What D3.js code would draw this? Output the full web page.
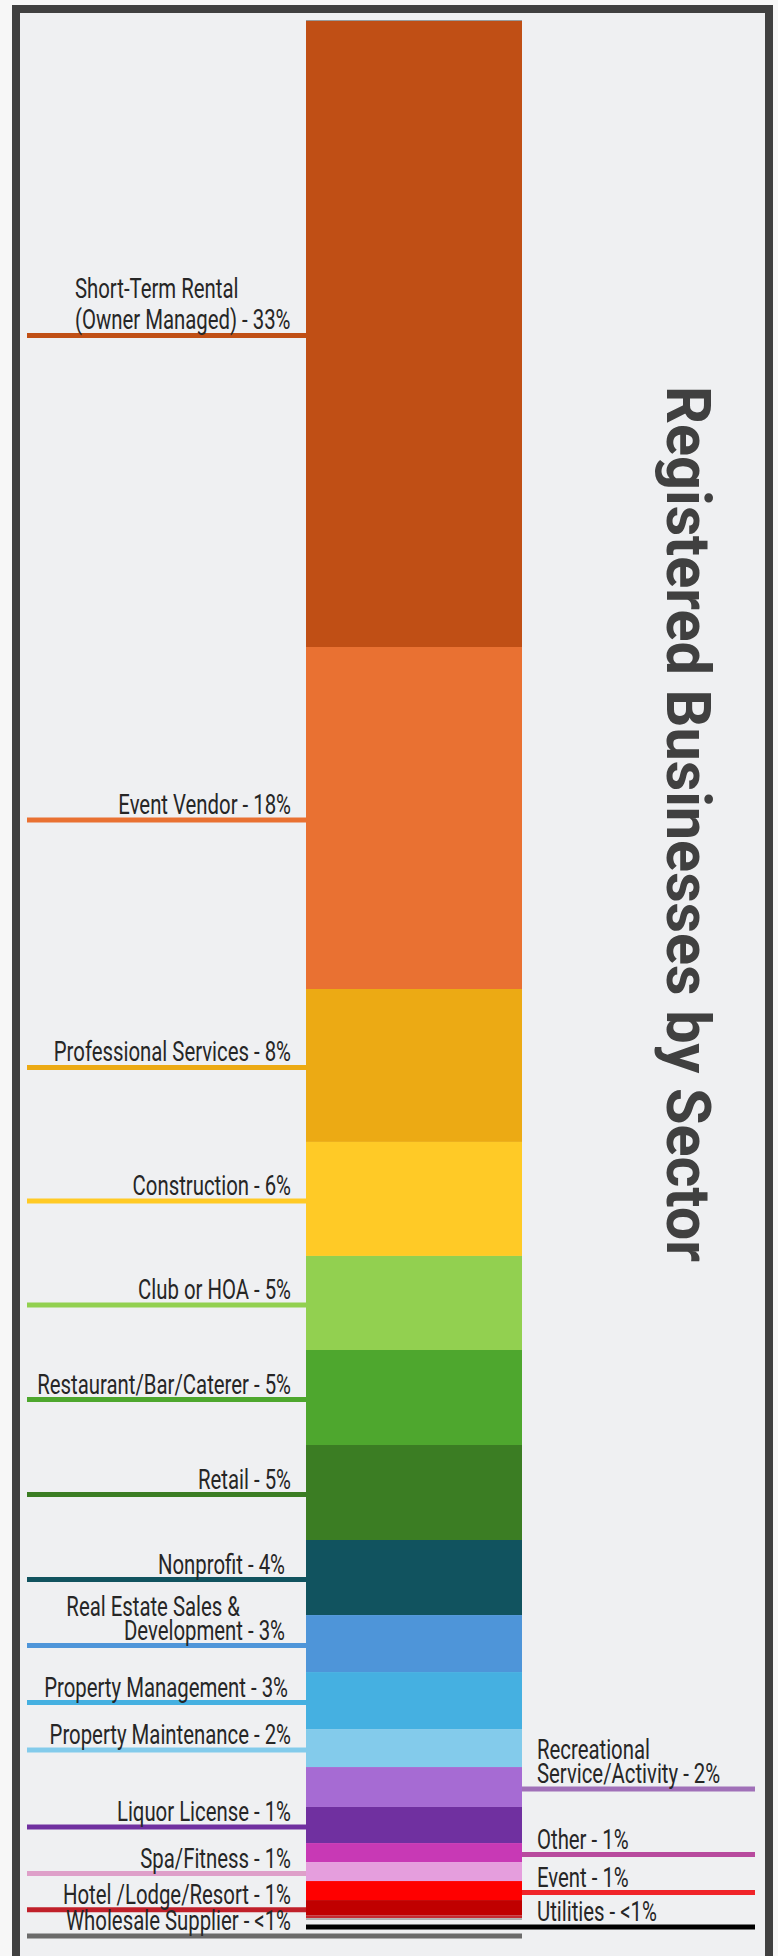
<!DOCTYPE html>
<html><head><meta charset="utf-8">
<script src="https://cdn.jsdelivr.net/npm/d3@7"></script>
<style>html,body{margin:0;padding:0;background:#f7f7f7;} svg{display:block}</style>
</head><body><div id="chart"></div>
<script>
// ---- data ----
const categories = ["Short-Term Rental (Owner Managed)","Event Vendor","Professional Services","Construction","Club or HOA","Restaurant/Bar/Caterer","Retail","Nonprofit","Real Estate Sales & Development","Property Management","Property Maintenance","Recreational Service/Activity","Liquor License","Other","Spa/Fitness","Event","Hotel /Lodge/Resort","Utilities","Wholesale Supplier"];
const values = [33.0, 18.0, 8.05, 6.0, 4.95, 5.0, 5.0, 3.95, 3.0, 3.0, 2.0, 2.1, 1.9, 1.0, 1.0, 1.0, 0.8, 0.15, 0.1];
const pctLabels = ["33%","18%","8%","6%","5%","5%","5%","4%","3%","3%","2%","2%","1%","1%","1%","1%","1%","<1%","<1%"];
const labelText = [["Short-Term Rental","(Owner Managed) - 33%"],["Event Vendor - 18%"],["Professional Services - 8%"],["Construction - 6%"],["Club or HOA - 5%"],["Restaurant/Bar/Caterer - 5%"],["Retail - 5%"],["Nonprofit - 4%"],["Real Estate Sales &","Development - 3%"],["Property Management - 3%"],["Property Maintenance - 2%"],["Recreational","Service/Activity - 2%"],["Liquor License - 1%"],["Other - 1%"],["Spa/Fitness - 1%"],["Event - 1%"],["Hotel /Lodge/Resort - 1%"],["Utilities - <1%"],["Wholesale Supplier - <1%"]];
const sides = ["L","L","L","L","L","L","L","L","L","L","L","R","L","R","L","R","L","R","L"];
const segColors = ["#c04f15","#e97132","#ecaa14","#ffca26","#92d050","#4ea72e","#3b7d23","#11535f","#4e95d9","#45b0e1","#83cbeb","#a66bd3","#7030a0","#c839b5","#e59edd","#ff0000","#c00000","#c52a30","#b0b0b0"];
const lineColors = ["#c04f15","#e97132","#ecaa14","#ffca26","#92d050","#4ea72e","#3b7d23","#11535f","#4e95d9","#45b0e1","#83cbeb","#a070b8","#7030a0","#b84a9e","#dea0c9","#f0242a","#c0202a","#000000","#6b6b6b"];
const title = "Registered Businesses by Sector";

// ---- layout ----
const W = 778, H = 1956;
const L = {barX0: 306, barX1: 522, barY0: 20, barY1: 1920, leftX: 27, rightX: 755, leftTextX: 291, rightTextX: 537};
const tweak = {
  0: {anchor: "start", x: 75, dys: [-38, -7]},
  7: {dx: -6},
  8: {lines: [{anchor: "end", x: 240, dy: -30}, {anchor: "end", x: 285, dy: -6}]},
  9: {dx: -3},
  11: {dys: [-30, -6]},
  17: {fromBar: 7, x0: "barX0"},
  18: {fromBar: 16, x1: "barX1"}
};

const svg = d3.select("#chart").append("svg").attr("width", W).attr("height", H);

svg.append("rect").attr("x", 16).attr("y", 9).attr("width", 753).attr("height", 1952)
  .attr("fill", "#eff0f2").attr("stroke", "#404040").attr("stroke-width", 8);

const row = {key: "All"};
categories.forEach((c, i) => row[c] = values[i]);
const stack = d3.stack().keys(categories)([row]);

const y = d3.scaleLinear().domain([0, d3.sum(values)]).range([L.barY0, L.barY1]);
const x = d3.scaleBand().domain(["All"]).range([L.barX0, L.barX1]).padding(0);

svg.append("g").selectAll("rect").data(stack).join("rect")
  .attr("x", x("All")).attr("width", x.bandwidth())
  .attr("y", d => y(d[0][0]))
  .attr("height", d => y(d[0][1]) - y(d[0][0]))
  .attr("fill", (d, i) => segColors[i]);

svg.append("line").attr("x1", L.barX0).attr("x2", L.barX1).attr("y1", L.barY0 + 0.5).attr("y2", L.barY0 + 0.5)
  .attr("stroke", "#9a9a9a").attr("stroke-width", 1);

const font = "Roboto, 'Liberation Sans', sans-serif";
const fontSize = 27;
const probe = svg.append("text").attr("font-family", font).attr("font-size", fontSize).text("Property Management - 3%");
const kx = 244 / probe.node().getComputedTextLength();
probe.remove();

const gLab = svg.append("g");
stack.forEach((s, i) => {
  const t = tweak[i] || {};
  const mid = (s[0][0] + s[0][1]) / 2;
  const ly = t.fromBar !== undefined ? y(d3.sum(values)) + t.fromBar : y(mid) + 2;
  let x0, x1;
  if (sides[i] === "L") { x0 = L.leftX; x1 = L.barX0; } else { x0 = L.barX1; x1 = L.rightX; }
  if (t.x0) x0 = L[t.x0];
  if (t.x1) x1 = L[t.x1];
  gLab.append("line").attr("x1", x0).attr("x2", x1).attr("y1", ly).attr("y2", ly)
    .attr("stroke", lineColors[i]).attr("stroke-width", 5);
  const lines = labelText[i];
  lines.forEach((txt, j) => {
    let anchor = sides[i] === "L" ? "end" : "start";
    let tx = (sides[i] === "L" ? L.leftTextX : L.rightTextX) + (t.dx || 0);
    let dy = t.dys ? t.dys[j] : -6 - (lines.length - 1 - j) * 24;
    if (t.anchor) anchor = t.anchor;
    if (t.x !== undefined) tx = t.x;
    if (t.lines) { anchor = t.lines[j].anchor; tx = t.lines[j].x; dy = t.lines[j].dy; }
    gLab.append("text")
      .attr("transform", `translate(${tx},${ly + dy}) scale(${kx},1)`)
      .attr("text-anchor", anchor)
      .attr("font-family", font).attr("font-size", fontSize).attr("fill", "#262626")
      .text(txt);
  });
});

svg.append("text")
  .attr("transform", "translate(667,824) rotate(90)")
  .attr("text-anchor", "middle")
  .attr("font-family", "Roboto, 'Liberation Sans', sans-serif")
  .attr("font-weight", 700).attr("font-size", 62).attr("fill", "#404040")
  .attr("textLength", 876).attr("lengthAdjust", "spacingAndGlyphs")
  .text(title);
</script>
</body></html>
